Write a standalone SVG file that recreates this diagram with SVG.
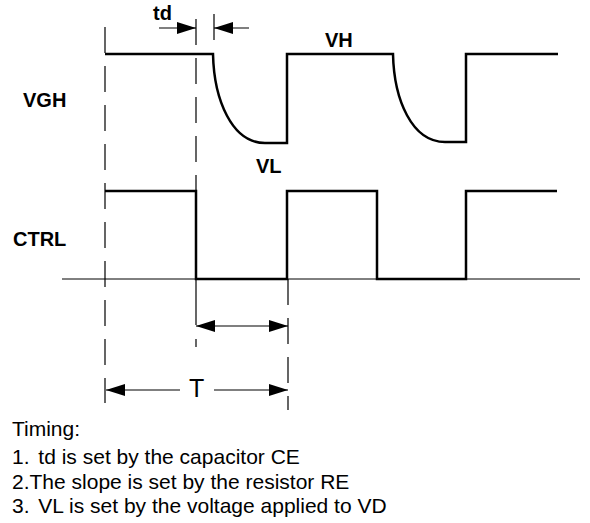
<svg xmlns="http://www.w3.org/2000/svg" width="590" height="523" viewBox="0 0 590 523">
<style>
.wave{fill:none;stroke:#000;stroke-width:2.5;stroke-linejoin:miter}
.dash{fill:none;stroke:#000;stroke-width:1.2;stroke-dasharray:26 13}
.thin{fill:none;stroke:#000;stroke-width:1.2}
.axis{fill:none;stroke:#000;stroke-width:1}
.lbl{font-family:"Liberation Sans",Arial,sans-serif;font-weight:bold;font-size:20px;fill:#000}
.txt{font-family:"Liberation Sans",Arial,sans-serif;font-size:21px;fill:#000}
</style>
<defs>
<marker id="ah" markerUnits="userSpaceOnUse" markerWidth="19" markerHeight="12" refX="19" refY="6" orient="auto-start-reverse">
<path d="M0,0 L19,6 L0,12 z" fill="#000"/>
</marker>
</defs>
<rect width="590" height="523" fill="#fff"/>
<g id="guides">
<line class="dash" x1="105" y1="27" x2="105" y2="403"/>
<line class="dash" x1="196" y1="19" x2="196" y2="191"/>
<line class="thin" x1="196" y1="279" x2="196" y2="325"/>
<line class="thin" x1="196" y1="339" x2="196" y2="347"/>
<line class="dash" x1="288" y1="279" x2="288" y2="410"/>
<line class="thin" x1="214" y1="14" x2="214" y2="40"/>
<line class="axis" x1="62" y1="279" x2="580" y2="279"/>
</g>
<g id="vgh">
<path class="wave" d="M105,54 H213 C214,100 232,143 265,143 H287 V54 H393 C394,100 412,142 445,142 H466 V54 H558"/>
</g>
<g id="ctrl">
<path class="wave" d="M105,191 H196 V279 H287 V191 H377 V279 H466 V191 H557"/>
</g>
<g id="connectors">
<line class="thin" x1="159" y1="28" x2="196" y2="28" marker-end="url(#ah)"/>
<line class="thin" x1="249" y1="28" x2="214" y2="28" marker-end="url(#ah)"/>
<line class="thin" x1="196" y1="326" x2="288" y2="326" marker-start="url(#ah)" marker-end="url(#ah)"/>
<line class="thin" x1="180" y1="390" x2="106" y2="390" marker-end="url(#ah)"/>
<line class="thin" x1="214" y1="390" x2="288" y2="390" marker-end="url(#ah)"/>
</g>
<g id="labels">
<text class="lbl" x="153" y="20">td</text>
<text class="lbl" x="325" y="47">VH</text>
<text class="lbl" x="23" y="107">VGH</text>
<text class="lbl" x="256" y="173">VL</text>
<text class="lbl" x="13" y="246">CTRL</text>
<text class="txt" x="189" y="397" style="font-size:25px">T</text>
</g>
<g id="notes">
<text class="txt" x="12" y="436">Timing:</text>
<text class="txt" x="12" y="464">1.<tspan dx="3"> td is set by the capacitor CE</tspan></text>
<text class="txt" x="12" y="489">2.The slope is set by the resistor RE</text>
<text class="txt" x="12" y="513">3.<tspan dx="3"> VL is set by the voltage applied to VD</tspan></text>
</g>
</svg>
